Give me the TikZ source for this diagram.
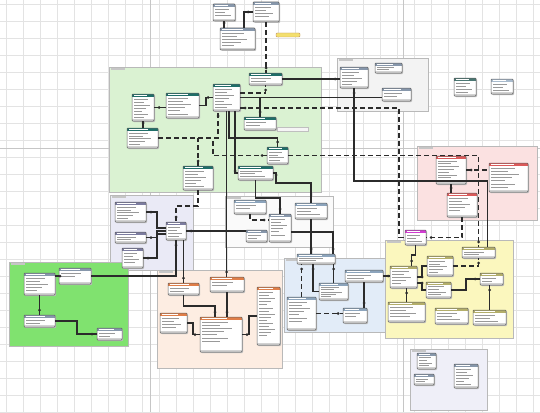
\documentclass[tikz,border=0pt]{standalone}
\usetikzlibrary{fit,decorations.markings,arrows.meta}
\definecolor{gfill}{HTML}{DAF2D2}
\definecolor{grayreg}{HTML}{F3F3F3}
\definecolor{pinkreg}{HTML}{FBE1E1}
\definecolor{lavreg}{HTML}{EAEAF6}
\definecolor{bgreen}{HTML}{80E26F}
\definecolor{peach}{HTML}{FDEDE2}
\definecolor{lblue}{HTML}{E2ECF8}
\definecolor{yell}{HTML}{FBF7BE}
\definecolor{lavtwo}{HTML}{EFEFF8}
\definecolor{tealh}{HTML}{1F6E68}
\definecolor{ghead}{HTML}{8797AB}
\definecolor{rhead}{HTML}{DB5A5A}
\definecolor{ohead}{HTML}{E07E48}
\definecolor{yhead}{HTML}{B3AE6A}
\definecolor{mhead}{HTML}{D23CD2}
\definecolor{phead}{HTML}{7C7CA0}
\definecolor{bhead}{HTML}{8CA4BC}
\definecolor{cline}{HTML}{2B2B2B}
\definecolor{notey}{HTML}{F3DF6E}
\tikzset{
  box/.style={inner sep=0pt, outer sep=0pt, rectangle},
  region/.style={inner sep=0pt, outer sep=0pt, rectangle, draw=gray!55, line width=0.5pt},
  rel/.style={draw=cline, line width=1.2pt},
  drel/.style={rel, dash pattern=on 5pt off 3pt},
  ed/.style={postaction={decorate, decoration={markings, mark=at position -5pt with {\fill[cline] (0,0) circle (1.5pt);}}}},
  sd/.style={postaction={decorate, decoration={markings, mark=at position 5pt with {\fill[cline] (0,0) circle (1.5pt);}}}},
  txt/.style={draw=gray!80, line width=0.55pt},
  foot/.style={fill=gray!35},
  gl/.style={draw=gray!22, line width=0.3pt},
}
\newcommand\tbl[7]{%
  \node[box, fit={(#2,#3) (#4,#5)}] (#1) {};
  \fill[black!25, rounded corners=1pt] ([shift={(1pt,-1pt)}]#1.north west) rectangle ([shift={(1pt,-1pt)}]#1.south east);
  \fill[white] (#1.north west) rectangle (#1.south east);
  \fill[#6] (#1.north west) rectangle ([yshift=-2.8pt]#1.north east);
  \fill[foot] ([yshift=1.8pt]#1.south west) rectangle (#1.south east);
  \pgfmathsetmacro\hw{(#4-#2)*0.6}
  \draw[white, line width=0.5pt] ([shift={(2pt,-1.4pt)}]#1.north west) -- ++(\hw,0);
  \pgfmathsetmacro\rs{min(3.1,(#5-#3-5)/(#7+0.3))}
  \foreach \i in {1,...,#7}{%
    \pgfmathsetmacro\ww{(#4-#2)*(0.35+0.09*mod(\i*3,5))}
    \pgfmathsetmacro\yy{2.2+\i*\rs}
    \draw[txt] ([shift={(2pt,-\yy pt)}]#1.north west) -- ++(\ww,0);
  }
  \draw[draw=gray!75!black, line width=0.5pt, rounded corners=0.8pt] (#1.north west) rectangle (#1.south east);
}
\begin{document}
\begin{tikzpicture}[x=1pt,y=-1pt]
\useasboundingbox (0,0) rectangle (540,412);
\fill[white] (0,0) rectangle (540,412);
\foreach \x in {6,23,...,540} \draw[gl] (\x,0) -- (\x,412);
\foreach \y in {4,21,...,412} \draw[gl] (0,\y) -- (540,\y);
\draw[draw=gray!45, line width=0.5pt] (0,148) -- (540,148);
\draw[draw=gray!45, line width=0.5pt] (150,0) -- (150,412);
\draw[draw=gray!45, line width=0.5pt] (403,0) -- (403,412);

% regions
\node[region, fill=gfill, fit={(109,67) (321,192)}] (R1) {};
\node[region, fill=grayreg, fit={(337,58) (428,111)}] (R2) {};
\node[region, fill=pinkreg, fit={(417,146) (537,220)}] (R3) {};
\node[region, fill=lavreg, fit={(110,195) (193,270)}] (R4) {};
\node[region, fill=gray!4, fit={(225,196) (333,247)}] (R5) {};
\node[region, fill=peach, fit={(157,270) (282,368)}] (R6) {};
\node[region, fill=lblue, fit={(284,258) (387,332)}] (R7) {};
\node[region, fill=yell, fit={(385,240) (513,338)}] (R8) {};
\node[region, fill=bgreen, fit={(9,262) (128,346)}] (R9) {};
\node[region, fill=lavtwo, fit={(410,349) (487,410)}] (R10) {};
\foreach \r in {R1,R2,R3,R4,R5,R6,R7,R8,R9,R10}
  \fill[gray!45] ([shift={(2pt,-1.2pt)}]\r.north west) rectangle ++(14,1.6);

% tables
\tbl{A1}{213}{4}{235}{21}{ghead}{3}
\tbl{A2}{253}{2}{279}{22}{ghead}{4}
\tbl{A3}{220}{28}{255}{50}{ghead}{5}
\node[box, fill=notey, draw=orange!60!black!60, rounded corners=1pt, fit={(276,33) (300,37)}] (N1) {};

\tbl{G1}{249}{73}{282}{85}{tealh}{2}
\tbl{G2}{213}{84}{240}{111}{tealh}{7}
\tbl{G3}{166}{93}{199}{118}{tealh}{6}
\tbl{G4}{132}{94}{154}{121}{tealh}{7}
\tbl{G5}{127}{128}{158}{148}{tealh}{5}
\tbl{G6}{244}{117}{276}{130}{tealh}{2}
\node[box, fill=white!92!gray, draw=gray!50, fit={(277,127) (308,131)}] (N2) {};
\tbl{G7}{267}{147}{288}{164}{tealh}{4}
\tbl{G8}{183}{166}{213}{190}{tealh}{6}
\tbl{G9}{238}{166}{273}{180}{tealh}{3}

\tbl{H1}{340}{67}{368}{88}{ghead}{5}
\tbl{H2}{375}{63}{402}{73}{ghead}{2}
\tbl{H3}{382}{88}{411}{101}{ghead}{2}
\tbl{H4}{454}{78}{476}{96}{tealh!55!gray}{4}
\tbl{H5}{491}{79}{513}{94}{bhead!75}{3}

\tbl{P1}{436}{156}{466}{184}{rhead}{8}
\tbl{P2}{489}{163}{528}{192}{rhead}{7}
\tbl{P3}{447}{193}{477}{217}{rhead}{5}

\tbl{L1}{115}{202}{146}{222}{phead}{5}
\tbl{L2}{115}{232}{146}{243}{phead}{2}
\tbl{L3}{122}{248}{143}{268}{phead}{4}
\tbl{L4}{166}{222}{186}{240}{phead}{4}

\tbl{M1}{234}{200}{266}{214}{bhead}{2}
\tbl{M2}{246}{230}{267}{242}{ghead}{2}
\tbl{M3}{269}{214}{291}{242}{ghead}{6}
\tbl{M4}{295}{203}{327}{219}{bhead}{3}

\tbl{B1}{297}{254}{335}{264}{bhead}{2}
\tbl{B2}{345}{270}{383}{282}{bhead}{2}
\tbl{B3}{319}{283}{348}{300}{bhead}{5}
\tbl{B4}{287}{297}{316}{330}{bhead}{7}
\tbl{B5}{343}{308}{367}{323}{bhead}{2}

\tbl{O1}{168}{283}{199}{295}{ohead}{2}
\tbl{O2}{210}{277}{244}{292}{ohead}{2}
\tbl{O3}{160}{313}{187}{333}{ohead}{4}
\tbl{O4}{200}{317}{242}{352}{ohead}{7}
\tbl{O5}{257}{287}{280}{345}{ohead}{15}

\tbl{MG}{405}{230}{426}{245}{mhead}{3}
\tbl{Y1}{390}{266}{417}{288}{yhead}{5}
\tbl{Y2}{427}{256}{453}{276}{yhead}{5}
\tbl{Y3}{462}{247}{495}{258}{yhead}{2}
\tbl{Y4}{480}{273}{503}{285}{yhead}{2}
\tbl{Y5}{426}{282}{451}{298}{yhead}{4}
\tbl{Y6}{388}{302}{425}{322}{yhead}{4}
\tbl{Y7}{435}{308}{468}{324}{yhead}{3}
\tbl{Y8}{473}{310}{506}{325}{yhead}{3}

\tbl{BG1}{24}{273}{55}{295}{ghead}{5}
\tbl{BG2}{59}{268}{91}{284}{ghead}{2}
\tbl{BG3}{24}{315}{55}{327}{ghead}{2}
\tbl{BG4}{97}{328}{122}{340}{ghead}{2}

\tbl{V1}{417}{353}{436}{369}{ghead}{4}
\tbl{V2}{414}{374}{434}{385}{ghead}{2}
\tbl{V3}{454}{364}{478}{388}{ghead}{6}

\coordinate (j1) at (213,138);

% connectors: top
\draw[rel,ed] (A1.south) -- (A1.south |- A3.north);
\draw[rel,sd] (A2.west) -| ([xshift=6.5pt]A3.north);
\draw[drel,ed] (A2.south) -- (A2.south |- G1.north);
% green
\draw[rel,ed] (G1.east) -- (G1.east -| H1.west);
\draw[rel] (G2.east) -- (G2.east -| H3.west);
\draw[drel,ed] ([yshift=4.5pt]G2.east) -| (G1.south);
\draw[drel,sd] ([yshift=-10.5pt]G2.east) -- (399,108) |- (MG.west);
\draw[drel,ed] (G7.east) -| (Y3.north);
\draw[rel,ed] (G3.east) -- (206,105.5) |- (G2.west);
\draw[rel,sd] (G4.east) -- (G4.east -| G3.west);
\draw[rel,ed] (G4.south) -- (G4.south |- G5.north);
\draw[drel,ed] (G5.east) -| ([xshift=5pt]G2.south west);
\draw[drel,sd] (G8.north) -- (G8.north |- G5.east);
\draw[drel,sd] (G7.west) -| (j1);
\draw[rel,sd] (G6.north) -- (G6.north |- G2.east);
\draw[rel,ed] ([xshift=16pt]G2.south west) -- (229,138) -| (G7.north);
\draw[rel,ed] ([xshift=22pt]G2.south west) |- (G9.west);
\draw[rel,sd] (G9.east) -| (276,183) -| (M4.north);
\draw[rel,ed] (G9.south) -- (255.5,198) -| (M3.north);
\draw[rel,ed] (G2.south) -- (G2.south |- O2.north);
% middle
\draw[drel,ed] (M1.south) |- ([yshift=8pt]M3.west);
\draw[rel,sd] (L4.east) -- (L4.east -| M2.west);
\draw[rel,ed] ([yshift=-4pt]M3.east) -| ([xshift=-2pt]B1.north east);
\draw[rel,ed] (M4.south) -- (M4.south |- B1.north);
\draw[rel,sd] (H1.south) -- (354,181) -| ([xshift=9pt]Y3.north);
% pink
\draw[drel,sd] (P1.east) -- (P1.east -| P2.west);
\draw[rel,ed] (P1.south) -- (P1.south |- P3.north);
\draw[drel,ed] (P3.south) |- (MG.east);
% lavender
\draw[rel,sd] (L1.east) -- (157,212) |- ([yshift=3pt]L4.west);
\draw[rel,sd] (L2.east) -- (157,237.5) |- (L4.west);
\draw[rel,sd] (L3.east) -- (157,258) |- ([yshift=-3pt]L4.west);
\draw[drel,ed] (G8.south) -- (198,206) -| (L4.north);
\draw[rel,ed] (BG2.east) -| (L4.south);
\draw[rel,sd] (O1.north) -- (O1.north |- L4.south);
% bright green
\draw[rel,ed] (BG2.west) -- (BG2.west -| BG1.east);
\draw[rel,ed] (BG1.south) -- (BG3.north);
\draw[rel,ed] (BG3.east) -- (77,321) |- (BG4.west);
% peach
\draw[rel,ed] (O1.south) -- (183.5,306) -| ([xshift=-6pt]O4.north);
\draw[rel,ed] (O2.south) -- (O2.south |- O4.north);
\draw[rel,ed] (O3.east) -- (193,323) |- (O4.west);
\draw[rel,ed] (O5.west) -- (249,316) |- (O4.east);
% light blue
\draw[drel,ed] (B4.north) -- (B4.north |- B1.south);
\draw[rel,sd] ([xshift=16pt]B1.south west) |- (B3.west);
\draw[rel,ed] (B3.north) -- (B3.north |- B1.south);
\draw[rel,ed] (B2.south) -- (B2.south |- B5.north);
\draw[drel,ed] (B4.east) -- (B4.east -| B5.west);
\draw[rel,sd] (B2.east) -- (B2.east -| Y1.west);
% yellow
\draw[rel,ed] (MG.south) -- (415.5,255) -| ([xshift=8pt]Y1.north);
\draw[rel,sd] (Y1.east) -- (422,277) |- (Y2.west);
\draw[rel,sd] ([yshift=-6pt]Y1.east) -- (422,283) |- (Y5.west);
\draw[drel,ed] (Y2.east) -| (Y3.south);
\draw[rel,ed] (Y5.east) -- (466,290) |- (Y4.west);
\draw[rel,ed] (Y8.north) -- (Y8.north |- Y4.south);
\draw[rel,ed] (Y6.north) -- (Y6.north |- Y1.south);
\end{tikzpicture}
\end{document}
